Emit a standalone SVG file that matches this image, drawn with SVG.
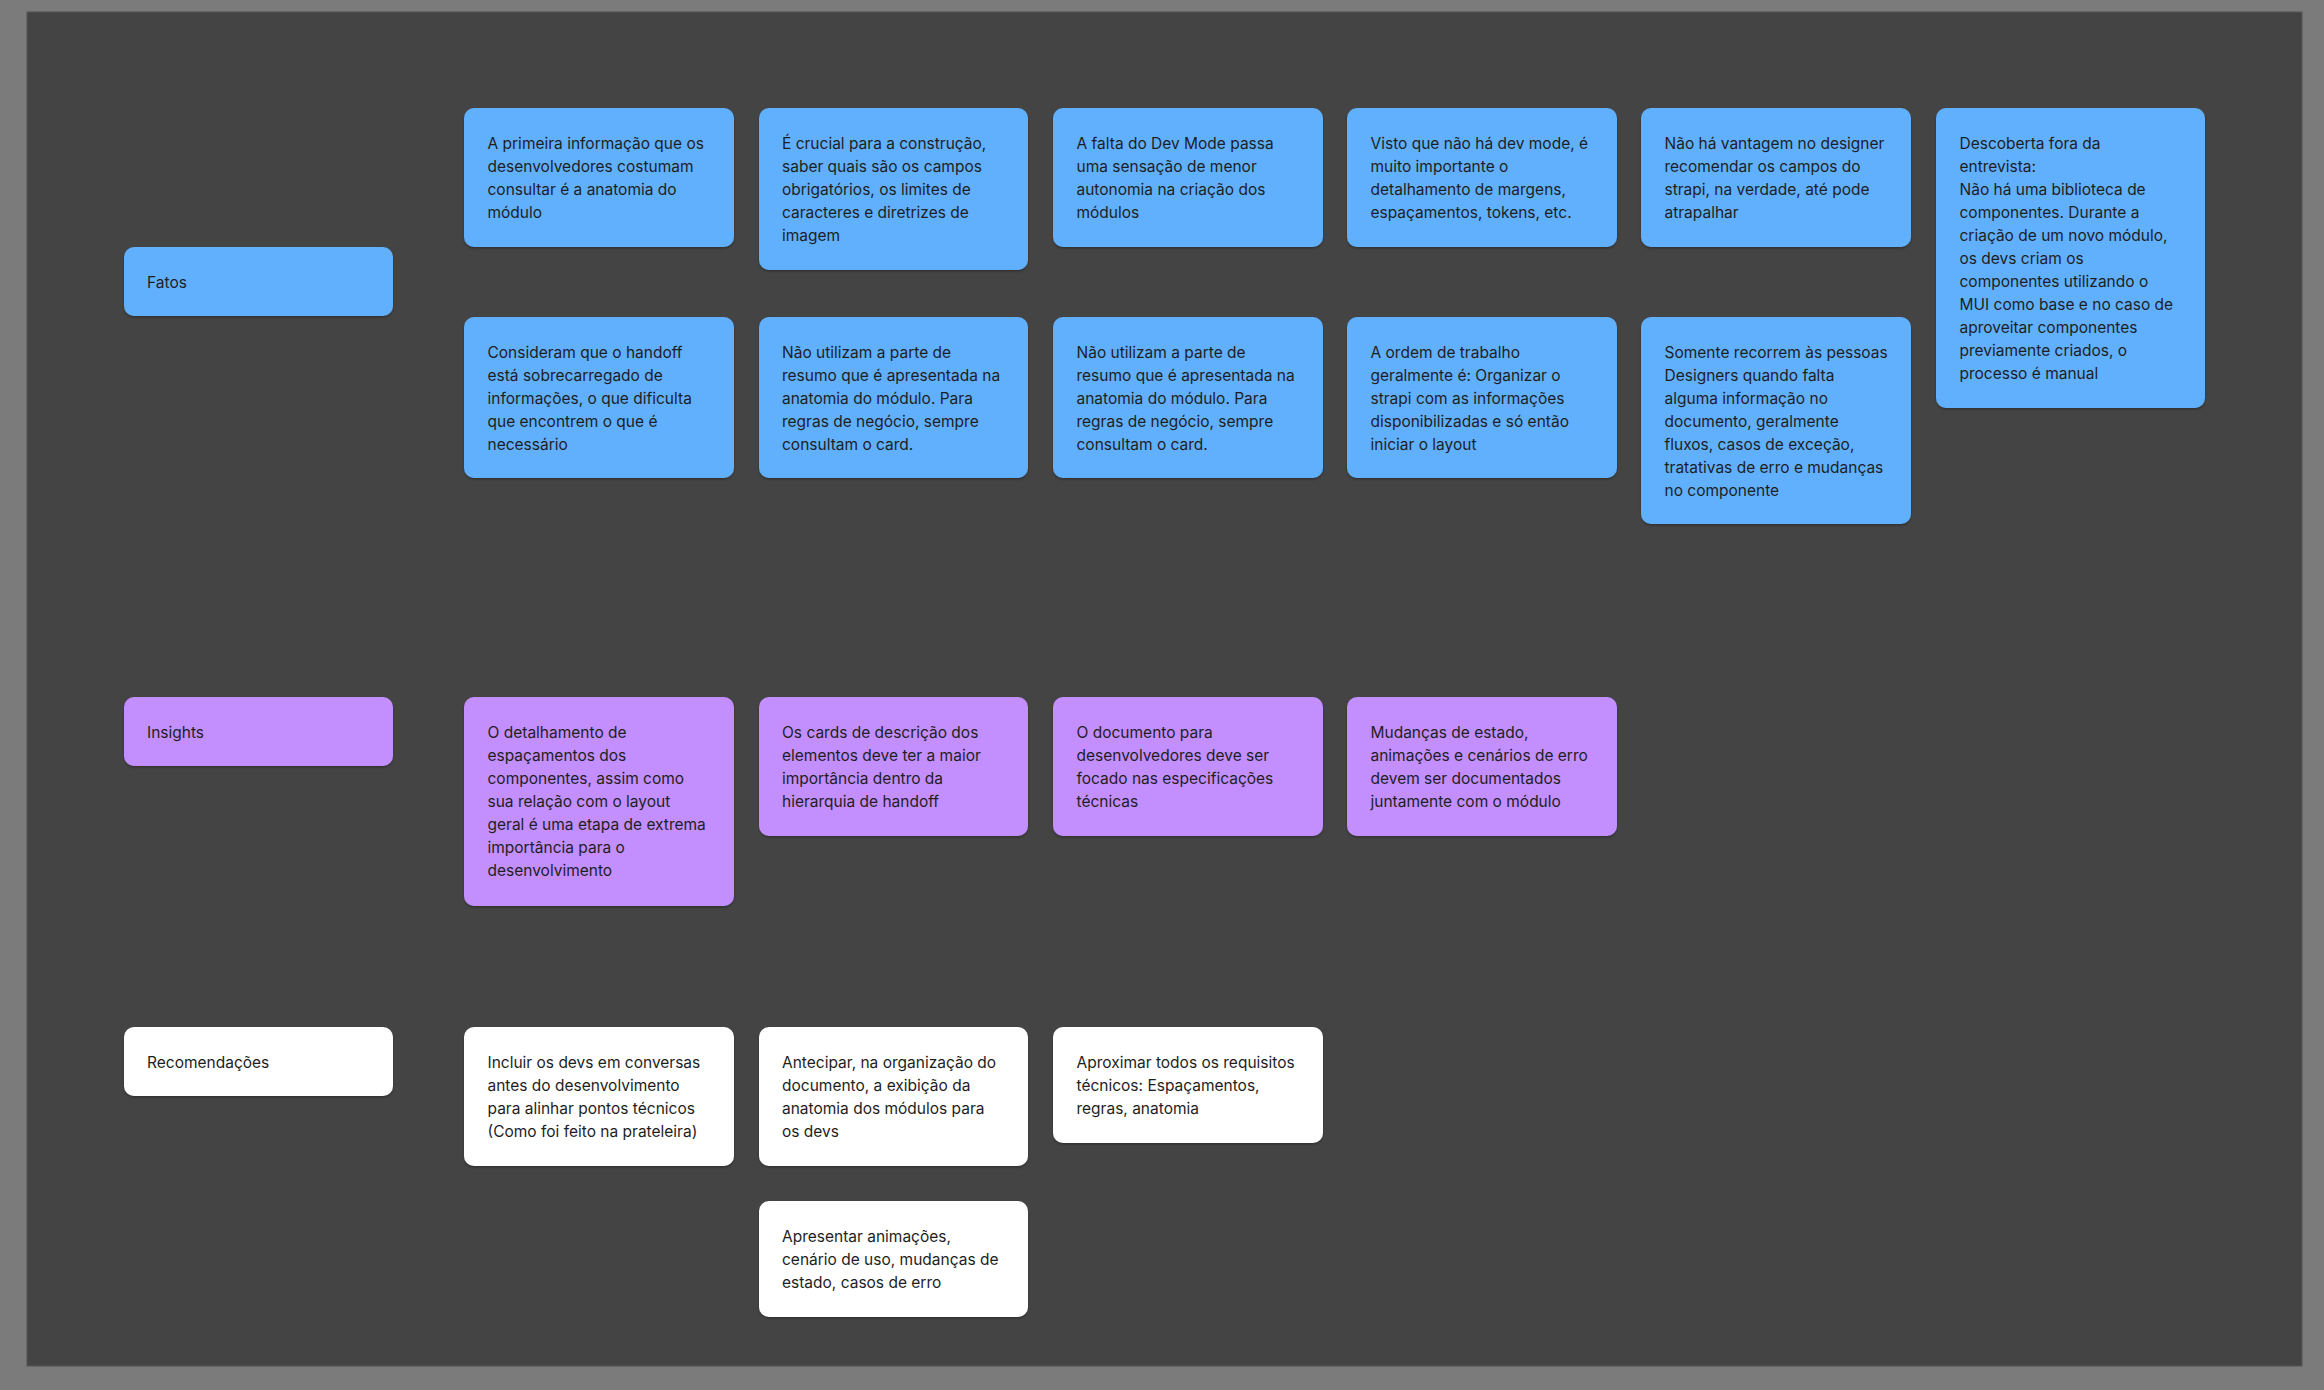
<svg xmlns="http://www.w3.org/2000/svg" width="2324" height="1390" viewBox="0 0 2324 1390">
<style>
.blue{fill:#60b0fe}
.purple{fill:#c38efe}
.white{fill:#ffffff}
.card{filter:url(#sh)}
text{font-family:Inter,"Noto Sans","Liberation Sans",sans-serif;font-size:15.5px;fill:#1e1e1e}
</style>
<defs>
<filter id="sh" x="-5%" y="-5%" width="110%" height="115%">
<feDropShadow dx="0" dy="1.5" stdDeviation="1.2" flood-color="#000" flood-opacity="0.3"/>
</filter>
</defs>
<rect x="0" y="0" width="2324" height="1390" fill="#7b7b7b"/>
<rect x="27" y="12" width="2275" height="1354" fill="#444444" stroke="#555555" stroke-width="1"/>
<g id="connectors"></g>

<g id="label-fatos"><rect class="card blue" x="124" y="247" width="269" height="69" rx="10"/><text x="147" y="288">Fatos</text></g>
<g id="label-insights"><rect class="card purple" x="124" y="697" width="269" height="69" rx="10"/><text x="147" y="738">Insights</text></g>
<g id="label-recomendacoes"><rect class="card white" x="124" y="1027" width="269" height="69" rx="10"/><text x="147" y="1068">Recomendações</text></g>

<g id="f1"><rect class="card blue" x="464" y="108" width="270" height="139" rx="10"/><text x="487.5" y="148.5"><tspan x="487.5">A primeira informação que os</tspan><tspan x="487.5" dy="23">desenvolvedores costumam</tspan><tspan x="487.5" dy="23">consultar é a anatomia do</tspan><tspan x="487.5" dy="23">módulo</tspan></text></g>
<g id="f2"><rect class="card blue" x="759" y="108" width="269" height="162" rx="10"/><text x="782" y="148.5"><tspan x="782">É crucial para a construção,</tspan><tspan x="782" dy="23">saber quais são os campos</tspan><tspan x="782" dy="23">obrigatórios, os limites de</tspan><tspan x="782" dy="23">caracteres e diretrizes de</tspan><tspan x="782" dy="23">imagem</tspan></text></g>
<g id="f3"><rect class="card blue" x="1053" y="108" width="270" height="139" rx="10"/><text x="1076.5" y="148.5"><tspan x="1076.5">A falta do Dev Mode passa</tspan><tspan x="1076.5" dy="23">uma sensação de menor</tspan><tspan x="1076.5" dy="23">autonomia na criação dos</tspan><tspan x="1076.5" dy="23">módulos</tspan></text></g>
<g id="f4"><rect class="card blue" x="1347" y="108" width="270" height="139" rx="10"/><text x="1370.5" y="148.5"><tspan x="1370.5">Visto que não há dev mode, é</tspan><tspan x="1370.5" dy="23">muito importante o</tspan><tspan x="1370.5" dy="23">detalhamento de margens,</tspan><tspan x="1370.5" dy="23">espaçamentos, tokens, etc.</tspan></text></g>
<g id="f5"><rect class="card blue" x="1641" y="108" width="270" height="139" rx="10"/><text x="1664.5" y="148.5"><tspan x="1664.5">Não há vantagem no designer</tspan><tspan x="1664.5" dy="23">recomendar os campos do</tspan><tspan x="1664.5" dy="23">strapi, na verdade, até pode</tspan><tspan x="1664.5" dy="23">atrapalhar</tspan></text></g>
<g id="f6"><rect class="card blue" x="1936" y="108" width="269" height="300" rx="10"/><text x="1959.5" y="148.5"><tspan x="1959.5">Descoberta fora da</tspan><tspan x="1959.5" dy="23">entrevista:</tspan><tspan x="1959.5" dy="23">Não há uma biblioteca de</tspan><tspan x="1959.5" dy="23">componentes. Durante a</tspan><tspan x="1959.5" dy="23">criação de um novo módulo,</tspan><tspan x="1959.5" dy="23">os devs criam os</tspan><tspan x="1959.5" dy="23">componentes utilizando o</tspan><tspan x="1959.5" dy="23">MUI como base e no caso de</tspan><tspan x="1959.5" dy="23">aproveitar componentes</tspan><tspan x="1959.5" dy="23">previamente criados, o</tspan><tspan x="1959.5" dy="23">processo é manual</tspan></text></g>

<g id="g1"><rect class="card blue" x="464" y="317" width="270" height="161" rx="10"/><text x="487.5" y="357.5"><tspan x="487.5">Consideram que o handoff</tspan><tspan x="487.5" dy="23">está sobrecarregado de</tspan><tspan x="487.5" dy="23">informações, o que dificulta</tspan><tspan x="487.5" dy="23">que encontrem o que é</tspan><tspan x="487.5" dy="23">necessário</tspan></text></g>
<g id="g2"><rect class="card blue" x="759" y="317" width="269" height="161" rx="10"/><text x="782" y="357.5"><tspan x="782">Não utilizam a parte de</tspan><tspan x="782" dy="23">resumo que é apresentada na</tspan><tspan x="782" dy="23">anatomia do módulo. Para</tspan><tspan x="782" dy="23">regras de negócio, sempre</tspan><tspan x="782" dy="23">consultam o card.</tspan></text></g>
<g id="g3"><rect class="card blue" x="1053" y="317" width="270" height="161" rx="10"/><text x="1076.5" y="357.5"><tspan x="1076.5">Não utilizam a parte de</tspan><tspan x="1076.5" dy="23">resumo que é apresentada na</tspan><tspan x="1076.5" dy="23">anatomia do módulo. Para</tspan><tspan x="1076.5" dy="23">regras de negócio, sempre</tspan><tspan x="1076.5" dy="23">consultam o card.</tspan></text></g>
<g id="g4"><rect class="card blue" x="1347" y="317" width="270" height="161" rx="10"/><text x="1370.5" y="357.5"><tspan x="1370.5">A ordem de trabalho</tspan><tspan x="1370.5" dy="23">geralmente é: Organizar o</tspan><tspan x="1370.5" dy="23">strapi com as informações</tspan><tspan x="1370.5" dy="23">disponibilizadas e só então</tspan><tspan x="1370.5" dy="23">iniciar o layout</tspan></text></g>
<g id="g5"><rect class="card blue" x="1641" y="317" width="270" height="207" rx="10"/><text x="1664.5" y="357.5"><tspan x="1664.5">Somente recorrem às pessoas</tspan><tspan x="1664.5" dy="23">Designers quando falta</tspan><tspan x="1664.5" dy="23">alguma informação no</tspan><tspan x="1664.5" dy="23">documento, geralmente</tspan><tspan x="1664.5" dy="23">fluxos, casos de exceção,</tspan><tspan x="1664.5" dy="23">tratativas de erro e mudanças</tspan><tspan x="1664.5" dy="23">no componente</tspan></text></g>

<g id="i1"><rect class="card purple" x="464" y="697" width="270" height="209" rx="10"/><text x="487.5" y="737.5"><tspan x="487.5">O detalhamento de</tspan><tspan x="487.5" dy="23">espaçamentos dos</tspan><tspan x="487.5" dy="23">componentes, assim como</tspan><tspan x="487.5" dy="23">sua relação com o layout</tspan><tspan x="487.5" dy="23">geral é uma etapa de extrema</tspan><tspan x="487.5" dy="23">importância para o</tspan><tspan x="487.5" dy="23">desenvolvimento</tspan></text></g>
<g id="i2"><rect class="card purple" x="759" y="697" width="269" height="139" rx="10"/><text x="782" y="737.5"><tspan x="782">Os cards de descrição dos</tspan><tspan x="782" dy="23">elementos deve ter a maior</tspan><tspan x="782" dy="23">importância dentro da</tspan><tspan x="782" dy="23">hierarquia de handoff</tspan></text></g>
<g id="i3"><rect class="card purple" x="1053" y="697" width="270" height="139" rx="10"/><text x="1076.5" y="737.5"><tspan x="1076.5">O documento para</tspan><tspan x="1076.5" dy="23">desenvolvedores deve ser</tspan><tspan x="1076.5" dy="23">focado nas especificações</tspan><tspan x="1076.5" dy="23">técnicas</tspan></text></g>
<g id="i4"><rect class="card purple" x="1347" y="697" width="270" height="139" rx="10"/><text x="1370.5" y="737.5"><tspan x="1370.5">Mudanças de estado,</tspan><tspan x="1370.5" dy="23">animações e cenários de erro</tspan><tspan x="1370.5" dy="23">devem ser documentados</tspan><tspan x="1370.5" dy="23">juntamente com o módulo</tspan></text></g>

<g id="r1"><rect class="card white" x="464" y="1027" width="270" height="139" rx="10"/><text x="487.5" y="1067.5"><tspan x="487.5">Incluir os devs em conversas</tspan><tspan x="487.5" dy="23">antes do desenvolvimento</tspan><tspan x="487.5" dy="23">para alinhar pontos técnicos</tspan><tspan x="487.5" dy="23">(Como foi feito na prateleira)</tspan></text></g>
<g id="r2"><rect class="card white" x="759" y="1027" width="269" height="139" rx="10"/><text x="782" y="1067.5"><tspan x="782">Antecipar, na organização do</tspan><tspan x="782" dy="23">documento, a exibição da</tspan><tspan x="782" dy="23">anatomia dos módulos para</tspan><tspan x="782" dy="23">os devs</tspan></text></g>
<g id="r3"><rect class="card white" x="1053" y="1027" width="270" height="116" rx="10"/><text x="1076.5" y="1067.5"><tspan x="1076.5">Aproximar todos os requisitos</tspan><tspan x="1076.5" dy="23">técnicos: Espaçamentos,</tspan><tspan x="1076.5" dy="23">regras, anatomia</tspan></text></g>
<g id="r4"><rect class="card white" x="759" y="1201" width="269" height="116" rx="10"/><text x="782" y="1241.5"><tspan x="782">Apresentar animações,</tspan><tspan x="782" dy="23">cenário de uso, mudanças de</tspan><tspan x="782" dy="23">estado, casos de erro</tspan></text></g>
</svg>
